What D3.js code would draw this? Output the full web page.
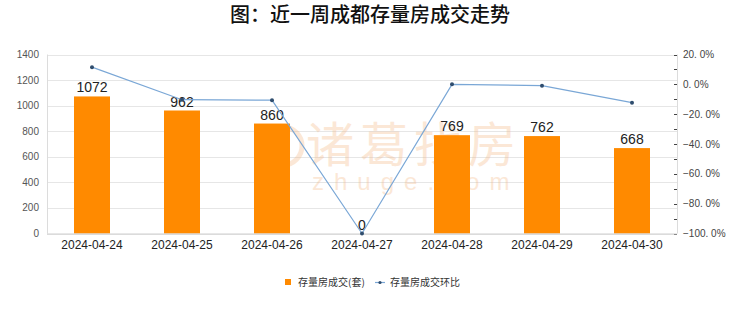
<!DOCTYPE html>
<html>
<head>
<meta charset="utf-8">
<script src="https://cdn.jsdelivr.net/npm/d3@7/dist/d3.min.js"></script>
<style>
  body { margin: 0; background: #fff; }
  svg { display: block; }
</style>
</head>
<body>
<div id="chart"></div>
<script>
// --- DATA ---
const DATES = ["2024-04-24", "2024-04-25", "2024-04-26", "2024-04-27", "2024-04-28", "2024-04-29", "2024-04-30"];
const VOLUME = [1072, 962, 860, 0, 769, 762, 668];
const CHANGE = [11.5, -10.3, -10.6, -100, 0, -0.9, -12.3];
const LEFT_TICKS = [0, 200, 400, 600, 800, 1000, 1200, 1400];
const RIGHT_TICKS = [20, 0, -20, -40, -60, -80, -100];

// --- CONFIG ---
const WIDTH = 740, HEIGHT = 312;
const PLOT = { left: 47, right: 677, top: 54.5, bottom: 233.5 };
const BAR_COLOR = "#FF8A00";
const LINE_COLOR = "#7aa7d6";
const DOT_COLOR = "#2f4d6e";
const FONT = "'Noto Sans CJK SC', 'Noto Sans', sans-serif";
const NUM_FONT = "'Liberation Sans', Arial, sans-serif";

const svg = d3.select("#chart").append("svg")
    .attr("width", WIDTH).attr("height", HEIGHT)
    .style("font-family", FONT);

// scales
const x = d3.scaleBand().domain(DATES).range([PLOT.left, PLOT.right]).paddingInner(0.6).paddingOuter(0.3);
const xc = d => x(d) + x.bandwidth() / 2;
const yL = d3.scaleLinear().domain([0, 1400]).range([PLOT.bottom, PLOT.top]);
const yR = d3.scaleLinear().domain([-100, 20]).range([PLOT.bottom, PLOT.top]);

// title
svg.append("text")
    .attr("x", 370).attr("y", 22)
    .attr("text-anchor", "middle")
    .attr("font-size", 20).attr("font-weight", 500).attr("fill", "#111")
    .text("图：近一周成都存量房成交走势");

// gridlines
svg.append("g").selectAll("line").data(LEFT_TICKS).join("line")
    .attr("x1", PLOT.left).attr("x2", PLOT.right)
    .attr("y1", d => Math.round(yL(d)) + 0.5).attr("y2", d => Math.round(yL(d)) + 0.5)
    .attr("stroke", "#e6e6e6");

// side axis lines
svg.append("line")
    .attr("x1", PLOT.left + 0.5).attr("x2", PLOT.left + 0.5)
    .attr("y1", PLOT.top).attr("y2", PLOT.bottom)
    .attr("stroke", "#dcdcdc");
svg.append("line")
    .attr("x1", PLOT.right + 0.5).attr("x2", PLOT.right + 0.5)
    .attr("y1", PLOT.top).attr("y2", PLOT.bottom)
    .attr("stroke", "#dcdcdc");

// left axis labels
svg.append("g").selectAll("text").data(LEFT_TICKS).join("text")
    .attr("x", PLOT.left - 8).attr("y", d => yL(d) + 3.5)
    .attr("text-anchor", "end")
    .attr("font-family", NUM_FONT).attr("font-size", 10).attr("fill", "#555")
    .text(d => d);

// right axis: minor ticks every 10%
svg.append("g").selectAll("line").data(d3.range(-100, 21, 10)).join("line")
    .attr("x1", PLOT.right - 3).attr("x2", PLOT.right)
    .attr("y1", d => Math.round(yR(d)) + 0.5).attr("y2", d => Math.round(yR(d)) + 0.5)
    .attr("stroke", "#444");
svg.append("g").selectAll("text").data(RIGHT_TICKS).join("text")
    .attr("x", PLOT.right + 6).attr("y", d => yR(d) + 3.5)
    .attr("font-family", NUM_FONT).attr("font-size", 10).attr("fill", "#444")
    .text(d => d3.format(".1f")(d).replace(".", ". ") + "%");

// watermark
const wm = svg.append("g").attr("fill", "#f4b27a").attr("opacity", 0.3);
wm.append("circle").attr("cx", 283).attr("cy", 146).attr("r", 19)
    .attr("fill", "none").attr("stroke", "#f4b27a").attr("stroke-width", 5);
wm.append("text").attr("x", 306).attr("y", 162)
    .attr("font-size", 48).attr("letter-spacing", 6)
    .text("诸葛找房");
wm.append("text").attr("x", 312).attr("y", 190)
    .attr("font-family", NUM_FONT).attr("font-size", 24).attr("letter-spacing", 10)
    .text("zhuge.com");

// bars
svg.append("g").selectAll("rect").data(DATES).join("rect")
    .attr("x", d => x(d)).attr("width", x.bandwidth())
    .attr("y", (d, i) => yL(VOLUME[i]))
    .attr("height", (d, i) => PLOT.bottom - yL(VOLUME[i]))
    .attr("fill", BAR_COLOR);

// bar labels
svg.append("g").selectAll("text").data(DATES).join("text")
    .attr("x", d => xc(d)).attr("y", (d, i) => yL(VOLUME[i]) - 4)
    .attr("text-anchor", "middle")
    .attr("font-family", NUM_FONT).attr("font-size", 14).attr("fill", "#222")
    .text((d, i) => VOLUME[i]);

// bottom axis line
svg.append("line")
    .attr("x1", PLOT.left).attr("x2", PLOT.right)
    .attr("y1", PLOT.bottom + 0.5).attr("y2", PLOT.bottom + 0.5)
    .attr("stroke", "#cfcfcf");

// x labels
svg.append("g").selectAll("text").data(DATES).join("text")
    .attr("x", d => xc(d)).attr("y", 249)
    .attr("text-anchor", "middle")
    .attr("font-family", NUM_FONT).attr("font-size", 12).attr("fill", "#222")
    .text(d => d);

// line
const line = d3.line().x((d, i) => xc(DATES[i])).y(d => yR(d));
svg.append("path").datum(CHANGE)
    .attr("d", line).attr("fill", "none")
    .attr("stroke", LINE_COLOR).attr("stroke-width", 1.2);
svg.append("g").selectAll("circle").data(CHANGE).join("circle")
    .attr("cx", (d, i) => xc(DATES[i])).attr("cy", d => yR(d))
    .attr("r", 2).attr("fill", DOT_COLOR);

// legend
const lg = svg.append("g").attr("font-size", 10).attr("fill", "#333");
lg.append("rect").attr("x", 285).attr("y", 279).attr("width", 6).attr("height", 6).attr("fill", BAR_COLOR);
lg.append("text").attr("x", 298).attr("y", 286).text("存量房成交(套)");
lg.append("line").attr("x1", 375).attr("x2", 385).attr("y1", 282.5).attr("y2", 282.5)
    .attr("stroke", LINE_COLOR).attr("stroke-width", 1.2);
lg.append("circle").attr("cx", 380).attr("cy", 282.5).attr("r", 1.6).attr("fill", DOT_COLOR);
lg.append("text").attr("x", 390).attr("y", 286).text("存量房成交环比");
</script>
</body>
</html>
